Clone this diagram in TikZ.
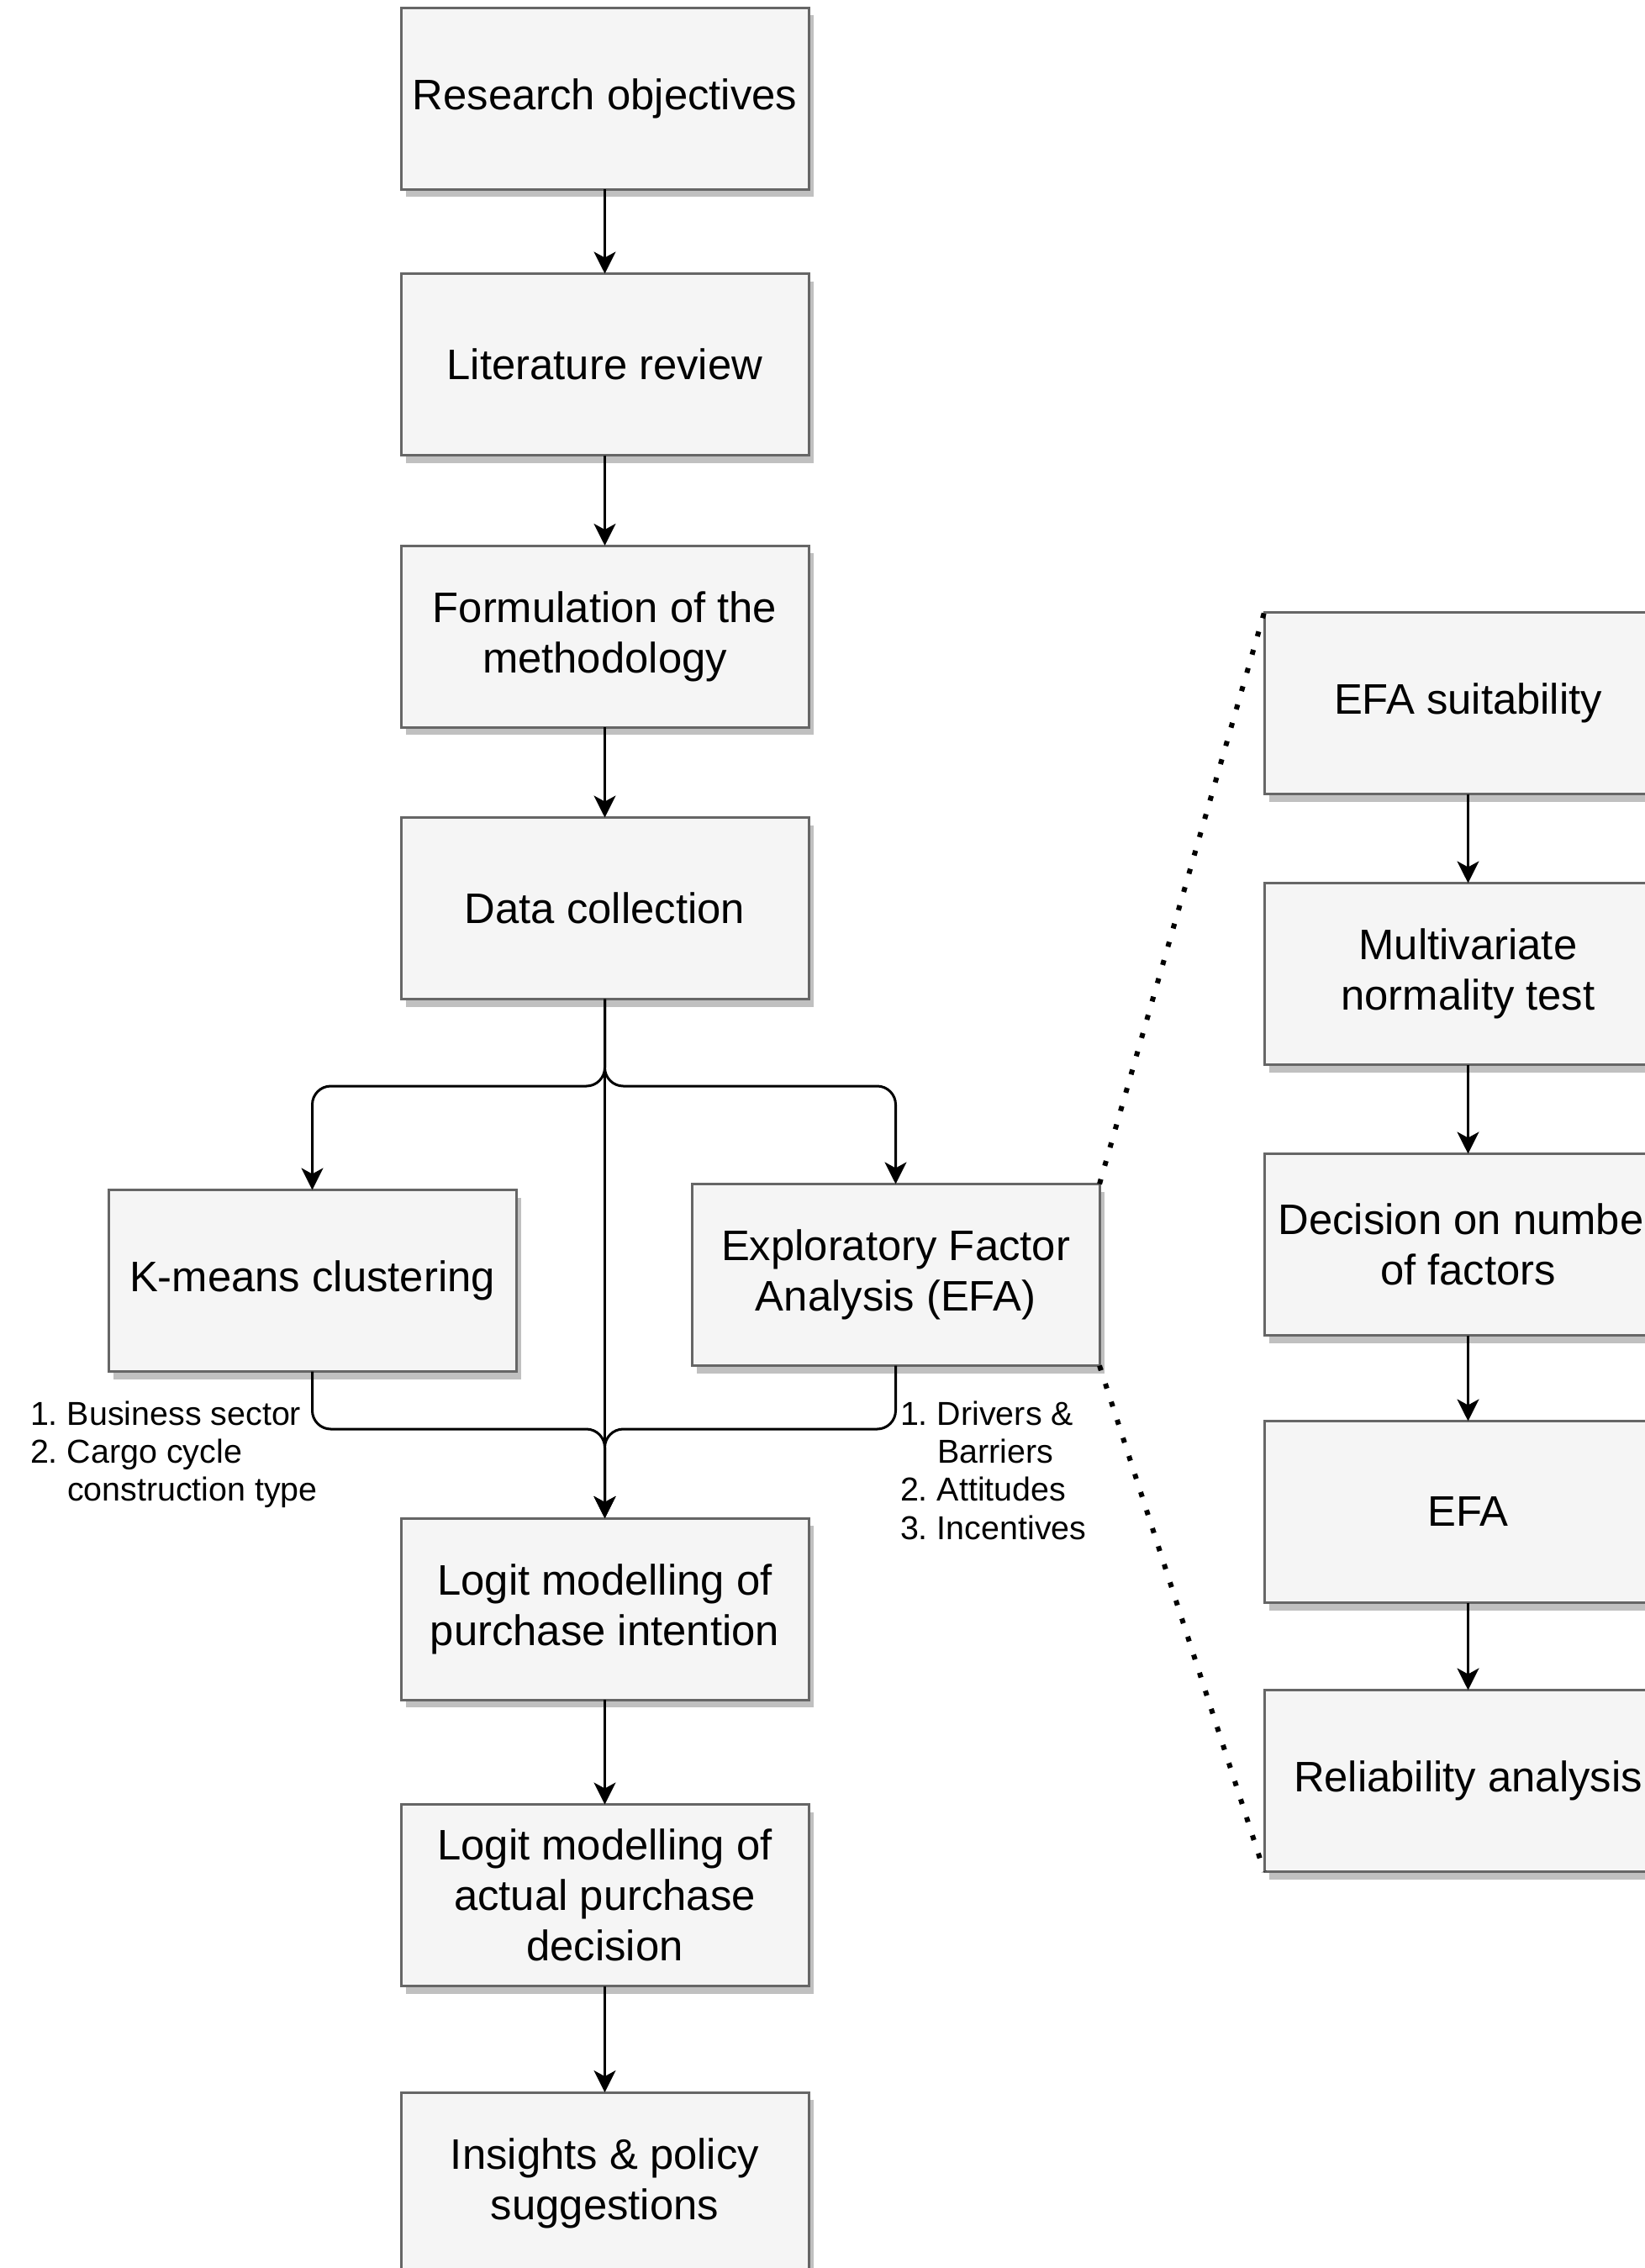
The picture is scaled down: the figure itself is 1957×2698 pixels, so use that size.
\documentclass[tikz,border=0pt]{standalone}
\usepackage{fontspec}
\setmainfont{Liberation Sans}
\usetikzlibrary{arrows.meta,shadows}

\definecolor{boxfill}{HTML}{F5F5F5}
\definecolor{boxline}{HTML}{666666}
\definecolor{boxshade}{HTML}{C0C0C0}

\newcommand{\stepfont}{\fontsize{25.4pt}{30pt}\selectfont}
\newcommand{\notefont}{\fontsize{19.7pt}{22.6pt}\selectfont}
\newcommand{\litem}[1]{\makebox[22pt][l]{#1}}

\tikzset{
  stepbox/.style={draw=boxline, fill=boxfill, line width=1.5pt,
    minimum width=242.5pt, minimum height=108pt, inner sep=0pt, outer sep=0pt,
    align=center, font=\stepfont,
    drop shadow={shadow xshift=3pt, shadow yshift=-4.5pt, fill=boxshade, opacity=1}},
  flow/.style={line width=1.5pt, rounded corners=11pt,
    -{Stealth[length=13pt,width=13pt,inset=3.5pt]}},
  zoomline/.style={line width=3pt, dash pattern=on 3pt off 8.3pt},
  note/.style={inner sep=0pt, outer sep=0pt, align=left, font=\notefont}
}

\begin{document}
\begin{tikzpicture}[x=0.5pt, y=-0.5pt]
  \useasboundingbox (0,0) rectangle (1957,2698);
  \clip (0,0) rectangle (1957,2698);

  % main sequence of steps
  \node[stepbox] (research)  at (719.5,117)    {Research objectives};
  \node[stepbox] (lit)       at (719.5,433.5)  {Literature review};
  \node[stepbox] (formul)    at (719.5,757)    {Formulation of the\\methodology};
  \node[stepbox] (data)      at (719.5,1080.5) {Data collection};
  \node[stepbox] (kmeans)    at (371.5,1523.5) {K-means clustering};
  \node[stepbox] (efa)       at (1065.5,1516.5){Exploratory Factor\\Analysis (EFA)};
  \node[stepbox] (logit1)    at (719.5,1914)   {Logit modelling of\\purchase intention};
  \node[stepbox] (logit2)    at (719.5,2254.5) {Logit modelling of\\actual purchase\\decision};
  \node[stepbox] (insights)  at (719.5,2597)   {Insights \& policy\\suggestions};

  % detail of the EFA step
  \node[stepbox] (suit)      at (1746.5,836.5)  {EFA suitability};
  \node[stepbox] (normal)    at (1746.5,1158.5) {Multivariate\\normality test};
  \node[stepbox] (nfactors)  at (1746.5,1480.5) {Decision on number\\of factors};
  \node[stepbox] (efarun)    at (1746.5,1798.5) {EFA};
  \node[stepbox] (reliab)    at (1746.5,2118.5) {Reliability analysis};

  % outputs of the two analyses
  \node[note, anchor=north west] (kmnote) at (36,1667)
    {\litem{1.}Business sector\\\litem{2.}Cargo cycle\\\litem{}construction type};
  \node[note, anchor=north west] (efanote) at (1071,1667)
    {\litem{1.}Drivers \&\\\litem{}Barriers\\\litem{2.}Attitudes\\\litem{3.}Incentives};

  % split and merge points of the parallel branch
  \coordinate (split) at (719.5,1292);
  \coordinate (merge) at (719.5,1700);

  % connectors
  \draw[flow] (research) -- (lit);
  \draw[flow] (lit) -- (formul);
  \draw[flow] (formul) -- (data);
  \draw[flow] (data.south) -- (split) -| (kmeans.north);
  \draw[flow] (data.south) -- (split) -| (efa.north);
  \draw[flow] (data.south) -- (logit1.north);
  \draw[flow] (kmeans.south) |- (merge) -- (logit1.north);
  \draw[flow] (efa.south) |- (merge) -- (logit1.north);
  \draw[flow] (logit1) -- (logit2);
  \draw[flow] (logit2) -- (insights);

  \draw[flow] (suit) -- (normal);
  \draw[flow] (normal) -- (nfactors);
  \draw[flow] (nfactors) -- (efarun);
  \draw[flow] (efarun) -- (reliab);

  % zoom-out lines from the EFA step to its detail
  \draw[zoomline] (efa.north east) -- (suit.north west);
  \draw[zoomline] (efa.south east) -- (reliab.south west);
\end{tikzpicture}
\end{document}
